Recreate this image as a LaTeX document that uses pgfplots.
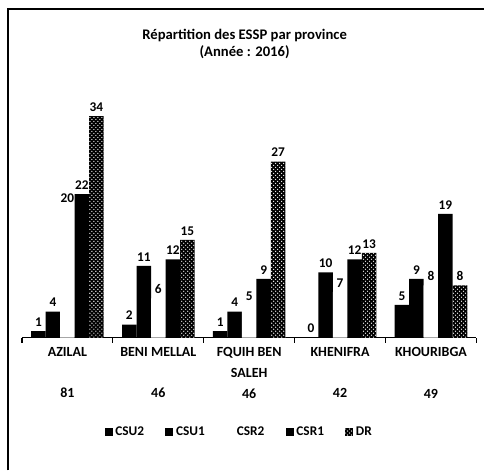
\documentclass[border=0pt]{standalone}
\usepackage{pgfplots}
\pgfplotsset{compat=1.18}
\usepackage{fontspec}
\setmainfont{Carlito}
\usetikzlibrary{patterns}

\begin{document}
\begin{tikzpicture}
% picture frame (485 x 471 px, 1px = 0.75pt)
\path (0pt,0pt) rectangle (363.75pt,353.25pt);
\draw[line width=0.9pt] (6pt,0pt) -- (6pt,346.5pt) -- (363.75pt,346.5pt);
\begin{axis}[
    at={(16.5pt,99.75pt)}, anchor=south west,
    scale only axis,
    width=341.25pt, height=195.75pt,
    ybar=0pt, bar width=10.9pt,
    xmin=-0.5, xmax=4.5, ymin=0, ymax=40,
    axis x line*=bottom, axis y line=none,
    axis line style={line width=0.8pt},
    /pgf/number format/assume math mode=true,
    xtick={0,...,4},
    xticklabels={{AZILAL\\~\\81},{BENI MELLAL\\~\\46},{FQUIH BEN\\SALEH\\46},{KHENIFRA\\~\\42},{KHOURIBGA\\~\\49}},
    xticklabel style={align=center, font=\bfseries\fontsize{10.5}{15.5}\selectfont, yshift=-4pt},
    major tick length=0pt,
    minor xtick={-0.5,0.5,...,4.5},
    minor tick length=4pt,
    tick align=outside,
    minor tick style={black, line width=0.8pt},
    title={Répartition des ESSP par province\\(Année : 2016)},
    title style={at={(0.49,1.095)}, anchor=center, align=center, font=\bfseries\fontsize{11}{12.5}\selectfont},
    nodes near coords,
    every node near coord/.append style={font=\bfseries\fontsize{10}{11}\selectfont, black},
    legend style={draw=none, at={(0.479,-0.364)}, anchor=center, font=\bfseries\fontsize{10}{11}\selectfont},
    legend columns=5,
    legend image code/.code={\fill[#1] (0pt,-3pt) rectangle (6pt,3pt);},
    /tikz/every even column/.append style={column sep=14pt},
]
\addplot[draw=none, fill=black] coordinates {(0,1) (1,2) (2,1) (3,0) (4,5)};
\addplot[draw=none, fill=black] coordinates {(0,4) (1,11) (2,4) (3,10) (4,9)};
\addplot[draw=none, fill=white] coordinates {(0,20) (1,6) (2,5) (3,7) (4,8)};
\addplot[draw=none, fill=black] coordinates {(0,22) (1,12) (2,9) (3,12) (4,19)};
\addplot[draw=none, fill=black, postaction={pattern=crosshatch dots, pattern color=white}] coordinates {(0,34) (1,15) (2,27) (3,13) (4,8)};
\legend{CSU2,CSU1,CSR2,CSR1,DR}
\end{axis}
\end{tikzpicture}
\end{document}
